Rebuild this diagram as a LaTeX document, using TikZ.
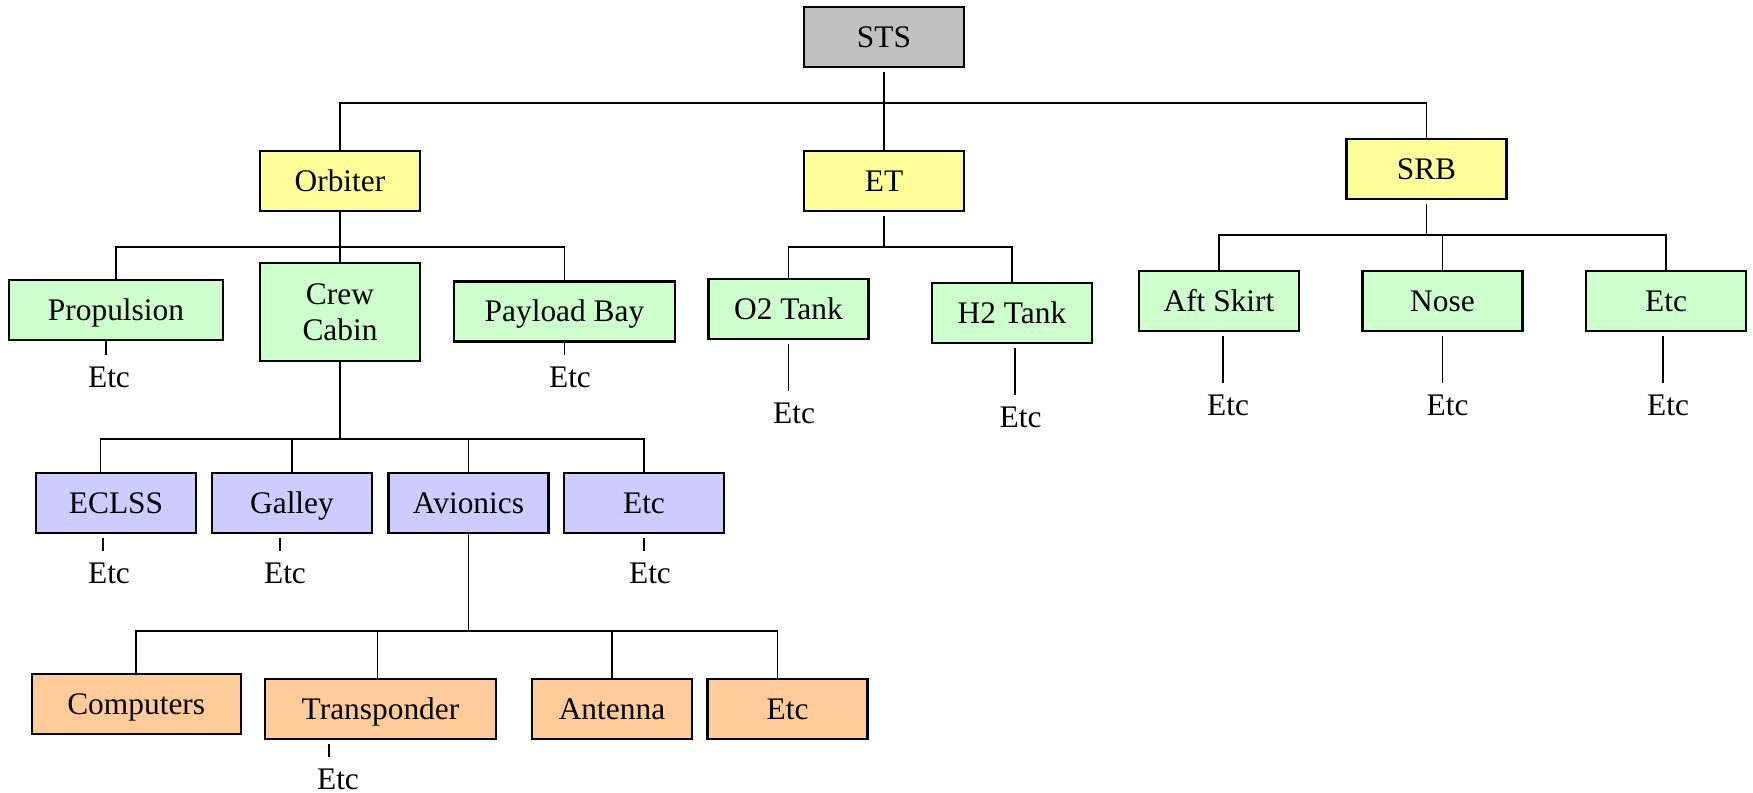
\documentclass[tikz,border=0pt]{standalone}
\usepackage{fontspec}
\setmainfont{Liberation Serif}
\usetikzlibrary{calc}
\definecolor{stsgray}{HTML}{C0C0C0}
\definecolor{lvlyellow}{HTML}{FFFF99}
\definecolor{lvlgreen}{HTML}{CCFFCC}
\definecolor{lvlblue}{HTML}{CCCCFF}
\definecolor{lvlorange}{HTML}{FFCC99}
\begin{document}
\begin{tikzpicture}[x=0.5pt,y=-0.5pt,
  every node/.style={font=\fontsize{15.7pt}{18pt}\selectfont},
  boxbase/.style={draw, line width=1.2pt, inner sep=0pt, minimum width=80pt, minimum height=30pt, align=center},
  box/.style={boxbase, text height=10.4pt, text depth=0pt},
  etc/.style={inner xsep=0pt, inner ysep=5.5pt},
  conn/.style={line width=0.9pt}]
\useasboundingbox (0,0) rectangle (1753,793);
% level 0-1
\node[box,fill=stsgray] (sts) at (884,37) {STS};
\node[box,fill=lvlyellow] (orb) at (340,181) {Orbiter};
\node[box,fill=lvlyellow] (et) at (884,181) {ET};
\node[box,fill=lvlyellow] (srb) at (1426.5,169) {SRB};
% level 2
\node[box,fill=lvlgreen,minimum width=107pt] (prop) at (116,310) {Propulsion};
\node[boxbase,fill=lvlgreen,minimum height=49pt] (crew) at (340,312) {Crew\\Cabin};
\node[box,fill=lvlgreen,minimum width=110.5pt] (pay) at (564.5,311.5) {Payload Bay};
\node[box,fill=lvlgreen] (o2) at (788.5,309) {O2 Tank};
\node[box,fill=lvlgreen] (h2) at (1012,313) {H2 Tank};
\node[box,fill=lvlgreen] (aft) at (1219,301) {Aft Skirt};
\node[box,fill=lvlgreen] (nose) at (1442.5,301) {Nose};
\node[box,fill=lvlgreen] (srbetc) at (1666,301) {Etc};
% level 3
\node[box,fill=lvlblue] (eclss) at (116,503) {ECLSS};
\node[box,fill=lvlblue] (galley) at (292,503) {Galley};
\node[box,fill=lvlblue] (avio) at (468.5,503) {Avionics};
\node[box,fill=lvlblue] (cabetc) at (644,503) {Etc};
% level 4
\node[box,fill=lvlorange,minimum width=104.5pt] (comp) at (136.2,704) {Computers};
\node[box,fill=lvlorange,minimum width=115.5pt] (trans) at (380.5,709) {Transponder};
\node[box,fill=lvlorange] (ant) at (612,709) {Antenna};
\node[box,fill=lvlorange] (avetc) at (787.5,709) {Etc};
% Etc labels
\node[etc] (propE) at (109,377) {Etc};
\node[etc] (payE) at (570,377) {Etc};
\node[etc] (o2E) at (794,413) {Etc};
\node[etc] (h2E) at (1020.5,417) {Etc};
\node[etc] (aftE) at (1228,405) {Etc};
\node[etc] (noseE) at (1447.6,405) {Etc};
\node[etc] (srbetcE) at (1668,405) {Etc};
\node[etc] (eclssE) at (109,573) {Etc};
\node[etc] (galleyE) at (285,573) {Etc};
\node[etc] (cabetcE) at (650,573) {Etc};
\node[etc] (transE) at (338,779) {Etc};
% bus junctions
\coordinate (b0) at (884,103);
\coordinate (b1) at (340,247);
\coordinate (b2) at (884,247);
\coordinate (b3) at (1426.5,235);
\coordinate (b4) at (340,439);
\coordinate (b5) at (468.5,631);
% STS level
\draw[conn] ([yshift=-2pt]sts.south) -- (b0);
\draw[conn] (orb.north) |- (b0) -| (srb.north);
\draw[conn] (b0) -- (et.north);
% Orbiter
\draw[conn] (orb.south) -- (crew.north);
\draw[conn] (prop.north) |- (b1) -| (pay.north);
% ET
\draw[conn] ([yshift=-2pt]et.south) -- (b2);
\draw[conn] (o2.north) |- (b2) -| (h2.north);
% SRB
\draw[conn] ([yshift=-2pt]srb.south) -- (b3);
\draw[conn] (aft.north) |- (b3) -| (srbetc.north);
\draw[conn] (b3 -| nose.north) -- (nose.north);
% Crew cabin
\draw[conn] (crew.south) -- (b4);
\draw[conn] ($(eclss.north)+(-15.5,0)$) |- (b4) -| (cabetc.north);
\draw[conn] (b4 -| galley.north) -- (galley.north);
\draw[conn] (b4 -| avio.north) -- (avio.north);
% Avionics
\draw[conn] (avio.south) -- (b5);
\draw[conn] (comp.north) |- (b5) -| ($(avetc.north)+(-10,0)$);
\draw[conn] ($(trans.north)+(-3,0)$) coordinate (tr) -- (tr |- b5);
\draw[conn] (ant.north) -- (ant.north |- b5);
% Etc stubs
\draw[conn] ($(prop.south)+(-10.3,0)$) coordinate (s1) -- (s1 |- propE.north);
\draw[conn] (pay.south) -- (pay.south |- payE.north);
\draw[conn] ([yshift=-2pt]o2.south) -- (o2.south |- o2E.north);
\draw[conn] ($(h2.south)+(3,4)$) coordinate (s2) -- (s2 |- h2E.north);
\draw[conn] ($(aft.south)+(3.6,4)$) coordinate (s3) -- (s3 |- aftE.north);
\draw[conn] ($(nose.south)+(0,4)$) coordinate (s4) -- (s4 |- noseE.north);
\draw[conn] ($(srbetc.south)+(-3,4)$) coordinate (s5) -- (s5 |- srbetcE.north);
\draw[conn] ($(eclss.south)+(-13,4)$) coordinate (s6) -- (s6 |- eclssE.north);
\draw[conn] ($(galley.south)+(-12.4,4)$) coordinate (s7) -- (s7 |- galleyE.north);
\draw[conn] ($(cabetc.south)+(0,4)$) coordinate (s8) -- (s8 |- cabetcE.north);
\draw[conn] ($(trans.south)+(-51.5,4)$) coordinate (s9) -- (s9 |- transE.north);
\end{tikzpicture}
\end{document}
